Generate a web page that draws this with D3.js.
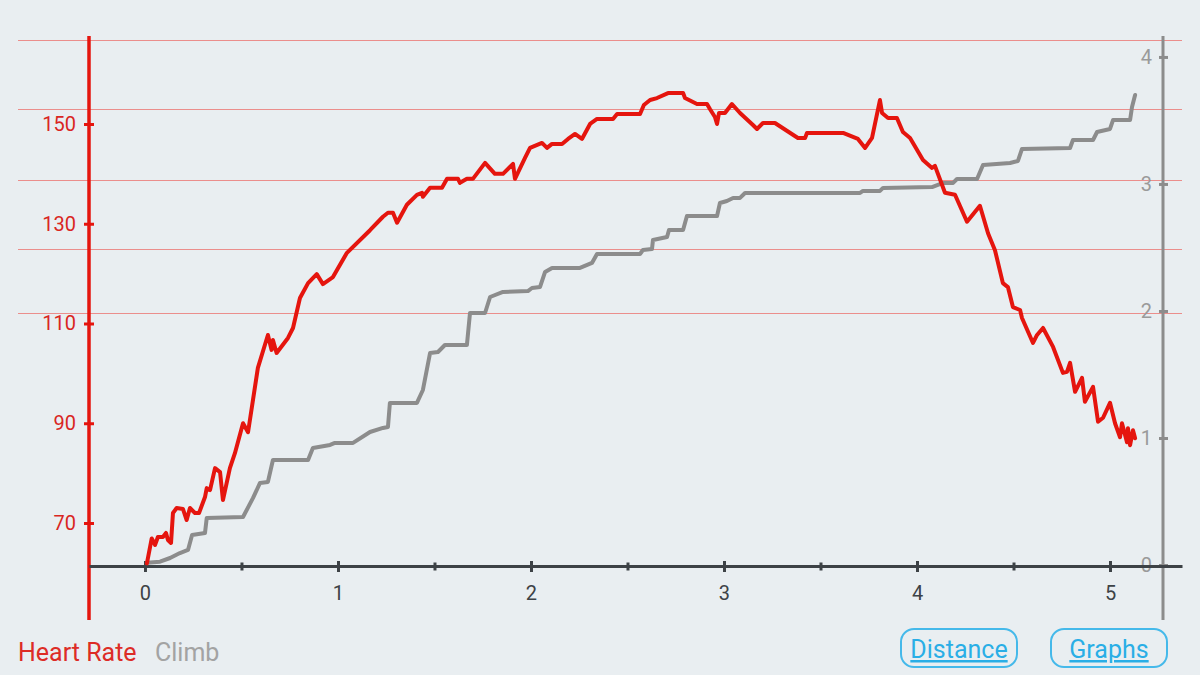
<!DOCTYPE html>
<html>
<head>
<meta charset="utf-8">
<script src="https://cdn.jsdelivr.net/npm/d3@7"></script>
<style>
  html, body { margin: 0; padding: 0; background: #e9eef1; }
  svg { display: block; font-family: Roboto, 'Noto Sans', sans-serif; }
</style>
</head>
<body>
<div id="chart"></div>
<script>
// distance (x) and heart rate samples
const hrDist = [0.01, 0.035, 0.052, 0.067, 0.093, 0.109, 0.119, 0.135, 0.145, 0.164, 0.197, 0.216, 0.233, 0.259, 0.28,
  0.311, 0.32, 0.337, 0.363, 0.389, 0.404, 0.44, 0.466, 0.508, 0.534, 0.585, 0.637, 0.656, 0.663, 0.682, 0.741, 0.767,
  0.803, 0.845, 0.89, 0.922, 0.974, 1.045, 1.166, 1.233, 1.259, 1.285, 1.306, 1.357, 1.409, 1.435, 1.44, 1.477, 1.539,
  1.565, 1.622, 1.632, 1.668, 1.699, 1.762, 1.813, 1.855, 1.907, 1.917, 1.969, 1.995, 2.057, 2.083, 2.109, 2.161, 2.192,
  2.228, 2.264, 2.306, 2.342, 2.425, 2.446, 2.565, 2.585, 2.617, 2.653, 2.71, 2.788, 2.798, 2.86, 2.912, 2.927, 2.953,
  2.964, 2.974, 3.005, 3.041, 3.083, 3.15, 3.171, 3.202, 3.264, 3.383, 3.42, 3.43, 3.617, 3.694, 3.731, 3.767, 3.808,
  3.819, 3.85, 3.896, 3.927, 3.964, 4.031, 4.078, 4.093, 4.145, 4.197, 4.259, 4.326, 4.368, 4.404, 4.445, 4.471, 4.497,
  4.534, 4.544, 4.601, 4.622, 4.653, 4.705, 4.756, 4.777, 4.793, 4.819, 4.855, 4.87, 4.912, 4.938, 4.964, 5.0, 5.026,
  5.052, 5.062, 5.088, 5.093, 5.104, 5.119, 5.13]
const hrBpm = [61.9, 66.9, 65.6, 67.2, 67.2, 68.0, 66.6, 66.0, 72.0, 73.0, 72.8, 70.6, 73.0, 72.0, 72.0,
  75.2, 77.0, 76.6, 81.0, 80.2, 74.6, 81.0, 84.0, 90.0, 88.2, 101.1, 107.7, 104.7, 106.7, 104.1, 107.1, 109.1,
  115.1, 118.1, 119.9, 117.9, 119.3, 124.1, 128.7, 131.4, 132.2, 132.2, 130.2, 133.8, 135.8, 136.2, 135.4, 137.2, 137.2,
  139.0, 139.0, 138.2, 139.0, 139.0, 142.2, 140.0, 140.0, 142.0, 139.0, 143.2, 145.2, 146.2, 145.2, 146.0, 146.0, 147.0,
  148.0, 147.0, 150.0, 151.0, 151.0, 152.0, 152.0, 153.8, 154.8, 155.2, 156.2, 156.2, 155.2, 154.0, 154.0, 153.0, 151.4,
  150.0, 152.2, 152.2, 154.0, 152.2, 149.8, 149.0, 150.2, 150.2, 147.2, 147.2, 148.2, 148.2, 147.0, 145.2, 147.2, 154.8,
  152.2, 151.2, 151.2, 148.4, 147.2, 142.8, 141.2, 141.6, 136.2, 135.8, 130.4, 133.6, 128.1, 124.7, 118.1, 117.3, 113.3,
  112.7, 111.1, 106.1, 107.7, 109.1, 105.3, 100.1, 100.3, 102.1, 96.3, 99.1, 94.3, 97.3, 90.3, 91.1, 94.1, 90.0,
  87.2, 90.0, 86.2, 89.0, 85.6, 88.6, 87.0]

// distance (x) and climb samples
const climbDist = [0.01, 0.078, 0.13, 0.181, 0.223, 0.244, 0.311, 0.32, 0.508, 0.56, 0.596, 0.637, 0.663, 0.845, 0.87,
  0.959, 0.984, 1.078, 1.166, 1.233, 1.259, 1.269, 1.409, 1.44, 1.477, 1.518, 1.554, 1.668, 1.684, 1.762, 1.788, 1.855,
  1.984, 2.005, 2.047, 2.073, 2.109, 2.254, 2.316, 2.342, 2.565, 2.58, 2.627, 2.632, 2.705, 2.715, 2.788, 2.808, 2.964,
  2.979, 3.015, 3.047, 3.083, 3.109, 3.705, 3.72, 3.808, 3.824, 4.078, 4.135, 4.187, 4.207, 4.311, 4.342, 4.482, 4.523,
  4.544, 4.793, 4.808, 4.912, 4.933, 5.0, 5.016, 5.104, 5.114, 5.13]
const climbVal = [0.018, 0.026, 0.055, 0.094, 0.118, 0.236, 0.252, 0.37, 0.378, 0.528, 0.646, 0.654, 0.827, 0.827, 0.921,
  0.945, 0.961, 0.961, 1.047, 1.079, 1.087, 1.276, 1.276, 1.378, 1.669, 1.677, 1.732, 1.732, 1.984, 1.984, 2.11, 2.15,
  2.157, 2.181, 2.189, 2.307, 2.339, 2.339, 2.378, 2.449, 2.449, 2.48, 2.488, 2.559, 2.583, 2.638, 2.638, 2.748, 2.748,
  2.85, 2.866, 2.89, 2.89, 2.929, 2.929, 2.945, 2.945, 2.969, 2.976, 3.008, 3.008, 3.039, 3.039, 3.15, 3.165, 3.181,
  3.276, 3.283, 3.346, 3.346, 3.409, 3.433, 3.504, 3.504, 3.606, 3.701]

const hrTicks = [70, 90, 110, 130, 150]
const climbTicks = [0, 1, 2, 3, 4]
const distTicks = [0, 0.5, 1, 1.5, 2, 2.5, 3, 3.5, 4, 4.5, 5]
const gridHr = [166.8, 153.0, 138.8, 124.9, 112.1]
const legendItems = ['Heart Rate', 'Climb']
const buttons = ['Distance', 'Graphs']

const width = 1200
const height = 675
const red = '#e5150e'
const grey = '#8c8c8c'

const svg = d3.select('#chart')
  .append('svg')
  .attr('width', width)
  .attr('height', height)

svg.append('rect')
  .attr('width', width)
  .attr('height', height)
  .attr('fill', '#e9eef1')

// scales
const x = d3.scaleLinear().domain([-0.29, 5.373]).range([89, 1182])
const yHr = d3.scaleLinear().domain([61.38, 167.64]).range([566, 36])
const yClimb = d3.scaleLinear().domain([-0.008, 4.165]).range([566, 36])

// odd red grid lines
svg.append('g')
  .selectAll('line')
  .data(gridHr)
  .join('line')
  .attr('x1', 18)
  .attr('x2', 1182)
  .attr('y1', d => Math.round(yHr(d)) + 0.5)
  .attr('y2', d => Math.round(yHr(d)) + 0.5)
  .attr('stroke', '#eb8e8c')
  .attr('stroke-width', 1.2)

// left (heart rate) axis
const leftAxis = svg.append('g')
  .attr('transform', 'translate(89,0)')
  .call(d3.axisLeft(yHr).tickValues(hrTicks).tickSize(0).tickPadding(13))
leftAxis.select('.domain').remove()
leftAxis.selectAll('.tick').append('line')
  .attr('x1', -5).attr('x2', 5)
  .attr('stroke', red).attr('stroke-width', 3)
leftAxis.selectAll('text')
  .attr('fill', '#d9261f')
  .style('font-size', '20px')
  .style('font-family', 'Roboto')
leftAxis.append('line')
  .attr('y1', 36).attr('y2', 620)
  .attr('stroke', red).attr('stroke-width', 3.5)

// right (climb) axis, labels sit on its left
const rightAxis = svg.append('g')
  .attr('transform', 'translate(1163,0)')
  .call(d3.axisLeft(yClimb).tickValues(climbTicks).tickFormat(d3.format('d')).tickSize(0).tickPadding(11))
rightAxis.select('.domain').remove()
rightAxis.selectAll('.tick').append('line')
  .attr('x1', -4).attr('x2', 5)
  .attr('stroke', grey).attr('stroke-width', 3)
rightAxis.selectAll('text')
  .attr('fill', '#9a9a9a')
  .style('font-size', '20px')
  .style('font-family', 'Roboto')
rightAxis.append('line')
  .attr('y1', 36).attr('y2', 620)
  .attr('stroke', grey).attr('stroke-width', 3)

// bottom (distance) axis
const bottomAxis = svg.append('g')
  .attr('transform', 'translate(0,566)')
  .call(d3.axisBottom(x)
    .tickValues(distTicks)
    .tickSize(0)
    .tickPadding(20)
    .tickFormat(d => Number.isInteger(d) ? d : ''))
bottomAxis.select('.domain')
  .attr('stroke', '#3d4246')
  .attr('stroke-width', 3)
bottomAxis.selectAll('.tick').append('line')
  .attr('y1', d => Number.isInteger(d) ? -5 : -3.5)
  .attr('y2', d => Number.isInteger(d) ? 6 : 4.5)
  .attr('stroke', '#3d4246')
  .attr('stroke-width', 3)
bottomAxis.selectAll('text')
  .attr('fill', '#3d4246')
  .style('font-size', '20px')
  .style('font-family', 'Roboto')

// series
const climbLine = d3.line()
  .x((d, i) => x(climbDist[i]))
  .y(d => yClimb(d))
svg.append('path')
  .datum(climbVal)
  .attr('d', climbLine)
  .attr('fill', 'none')
  .attr('stroke', grey)
  .attr('stroke-width', 4)
  .attr('stroke-linejoin', 'round')
  .attr('stroke-linecap', 'round')

const hrLine = d3.line()
  .x((d, i) => x(hrDist[i]))
  .y(d => yHr(d))
svg.append('path')
  .datum(hrBpm)
  .attr('d', hrLine)
  .attr('fill', 'none')
  .attr('stroke', red)
  .attr('stroke-width', 4)
  .attr('stroke-linejoin', 'round')
  .attr('stroke-linecap', 'round')

// legend
svg.append('text')
  .attr('x', 18).attr('y', 661)
  .attr('fill', '#dd2c26')
  .style('font-size', '25px')
  .text(legendItems[0])
svg.append('text')
  .attr('x', 155).attr('y', 661)
  .attr('fill', '#a3a3a3')
  .style('font-size', '25px')
  .text(legendItems[1])

// buttons
const btn = svg.selectAll('g.btn')
  .data(buttons)
  .join('g')
  .attr('class', 'btn')
  .attr('transform', (d, i) => `translate(${901 + i * 150},629)`)
btn.append('rect')
  .attr('width', 116).attr('height', 38)
  .attr('rx', 13)
  .attr('fill', 'none')
  .attr('stroke', '#45b9ea')
  .attr('stroke-width', 2)
btn.append('text')
  .attr('x', 58).attr('y', 29)
  .attr('text-anchor', 'middle')
  .attr('fill', '#2aaee6')
  .attr('text-decoration', 'underline')
  .style('font-size', '25px')
  .text(d => d)
</script>
</body>
</html>
